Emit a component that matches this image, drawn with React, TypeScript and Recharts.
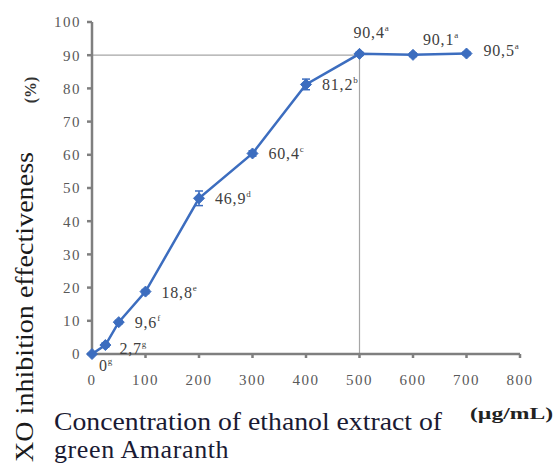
import React from 'react';
import { LineChart, Line, XAxis, YAxis, ReferenceLine, ErrorBar, LabelList } from 'recharts';

const concentrations = [0, 25, 50, 100, 200, 300, 400, 500, 600, 700];
const inhibition = [0, 2.7, 9.6, 18.8, 46.9, 60.4, 81.2, 90.4, 90.1, 90.5];
const groupLetters = ['g', 'g', 'f', 'e', 'd', 'c', 'b', 'a', 'a', 'a'];
const errors = [0, 0.6, 0.5, 0.6, 2.2, 0.8, 1.6, 0.5, 0.5, 0.5];
const xTicks = [0, 100, 200, 300, 400, 500, 600, 700, 800];
const yTicks = [0, 10, 20, 30, 40, 50, 60, 70, 80, 90, 100];

const chartData = concentrations.map((c, i) => ({
  conc: c,
  value: inhibition[i],
  err: errors[i],
  letter: groupLetters[i],
}));

const LINE = '#3c6dbf';
const SERIF = '"Liberation Serif", "Times New Roman", "DejaVu Serif", serif';
const tickStyle = { fontFamily: SERIF, fontSize: 15, fill: '#595959', letterSpacing: 1.5 };

const Diamond = (props: any) => {
  const { cx, cy, index } = props;
  if (cx == null || cy == null) return null;
  const r = 5.5;
  return (
    <polygon
      key={'d' + index}
      points={`${cx},${cy - r} ${cx + r},${cy} ${cx},${cy + r} ${cx - r},${cy}`}
      fill={LINE}
      stroke={LINE}
    />
  );
};

const PointLabel = (props: any) => {
  const { x, y, index } = props;
  const v = inhibition[index];
  const txt = String(v).replace('.', ',');
  // nudge per point, the way the original figure places them
  let dx = 16;
  let dy = 6;
  if (index === 0) { dx = 7; dy = 17; }
  if (index === 1) { dx = 14; dy = 9; }
  if (index === 7) { dx = -6; dy = -16; }
  if (index === 8) { dx = 10; dy = -10; }
  if (index === 9) { dx = 17; dy = 2; }
  return (
    <text x={x + dx} y={y + dy} fontFamily={SERIF} fontSize={16} fill="#404040" letterSpacing={0.8}>
      {txt}
      <tspan fontSize={9} dy={-7}>{groupLetters[index]}</tspan>
    </text>
  );
};

export default function App() {
  return (
    <div style={{ position: 'absolute', left: 0, top: 0, width: 555, height: 466, background: '#fff' }}>
      <LineChart
        width={555}
        height={466}
        data={chartData}
        margin={{ top: 22, right: 35, left: 52, bottom: 82 }}
      >
        <XAxis
          dataKey="conc"
          type="number"
          domain={[0, 800]}
          ticks={xTicks}
          height={30}
          tickSize={4}
          tickMargin={16}
          stroke="#7f7f7f"
          strokeWidth={2.5}
          tick={tickStyle}
        />
        <YAxis
          type="number"
          domain={[0, 100]}
          ticks={yTicks}
          width={40}
          tickSize={5}
          tickMargin={6}
          stroke="#7f7f7f"
          strokeWidth={2.5}
          tick={tickStyle}
        />
        <ReferenceLine
          segment={[{ x: 0, y: 90 }, { x: 500, y: 90 }]}
          stroke="#a6a6a6"
          strokeWidth={1.2}
        />
        <ReferenceLine
          segment={[{ x: 500, y: 0 }, { x: 500, y: 90 }]}
          stroke="#a6a6a6"
          strokeWidth={1.2}
        />
        <Line
          dataKey="value"
          stroke={LINE}
          strokeWidth={2.5}
          dot={<Diamond />}
          activeDot={false}
          isAnimationActive={false}
        >
          <ErrorBar dataKey="err" width={4} stroke={LINE} strokeWidth={1.5} direction="y" />
          <LabelList dataKey="value" content={<PointLabel />} />
        </Line>
        <text
          transform="translate(33, 307) rotate(-90)"
          textAnchor="middle"
          fontFamily={SERIF}
          fontSize={26}
          textLength={310}
          lengthAdjust="spacingAndGlyphs"
          fill="#1a1a1a"
        >
          XO inhibition effectiveness
        </text>
        <text
          transform="translate(36, 90) rotate(-90)"
          textAnchor="middle"
          fontFamily={SERIF}
          fontSize={16}
          fontWeight="bold"
          fill="#333"
        >
          (%)
        </text>
        <text
          x={54}
          y={430}
          fontFamily={SERIF}
          fontSize={26}
          textLength={388}
          lengthAdjust="spacingAndGlyphs"
          fill="#1a1a33"
        >
          Concentration of ethanol extract of
        </text>
        <text x={54} y={458} fontFamily={SERIF} fontSize={26} fill="#1a1a33" letterSpacing={0.6}>
          green Amaranth
        </text>
        <text
          x={470}
          y={419}
          fontFamily={SERIF}
          fontSize={16}
          fontWeight="bold"
          textLength={83}
          lengthAdjust="spacingAndGlyphs"
          fill="#222"
        >
          (µg/mL)
        </text>
      </LineChart>
    </div>
  );
}
